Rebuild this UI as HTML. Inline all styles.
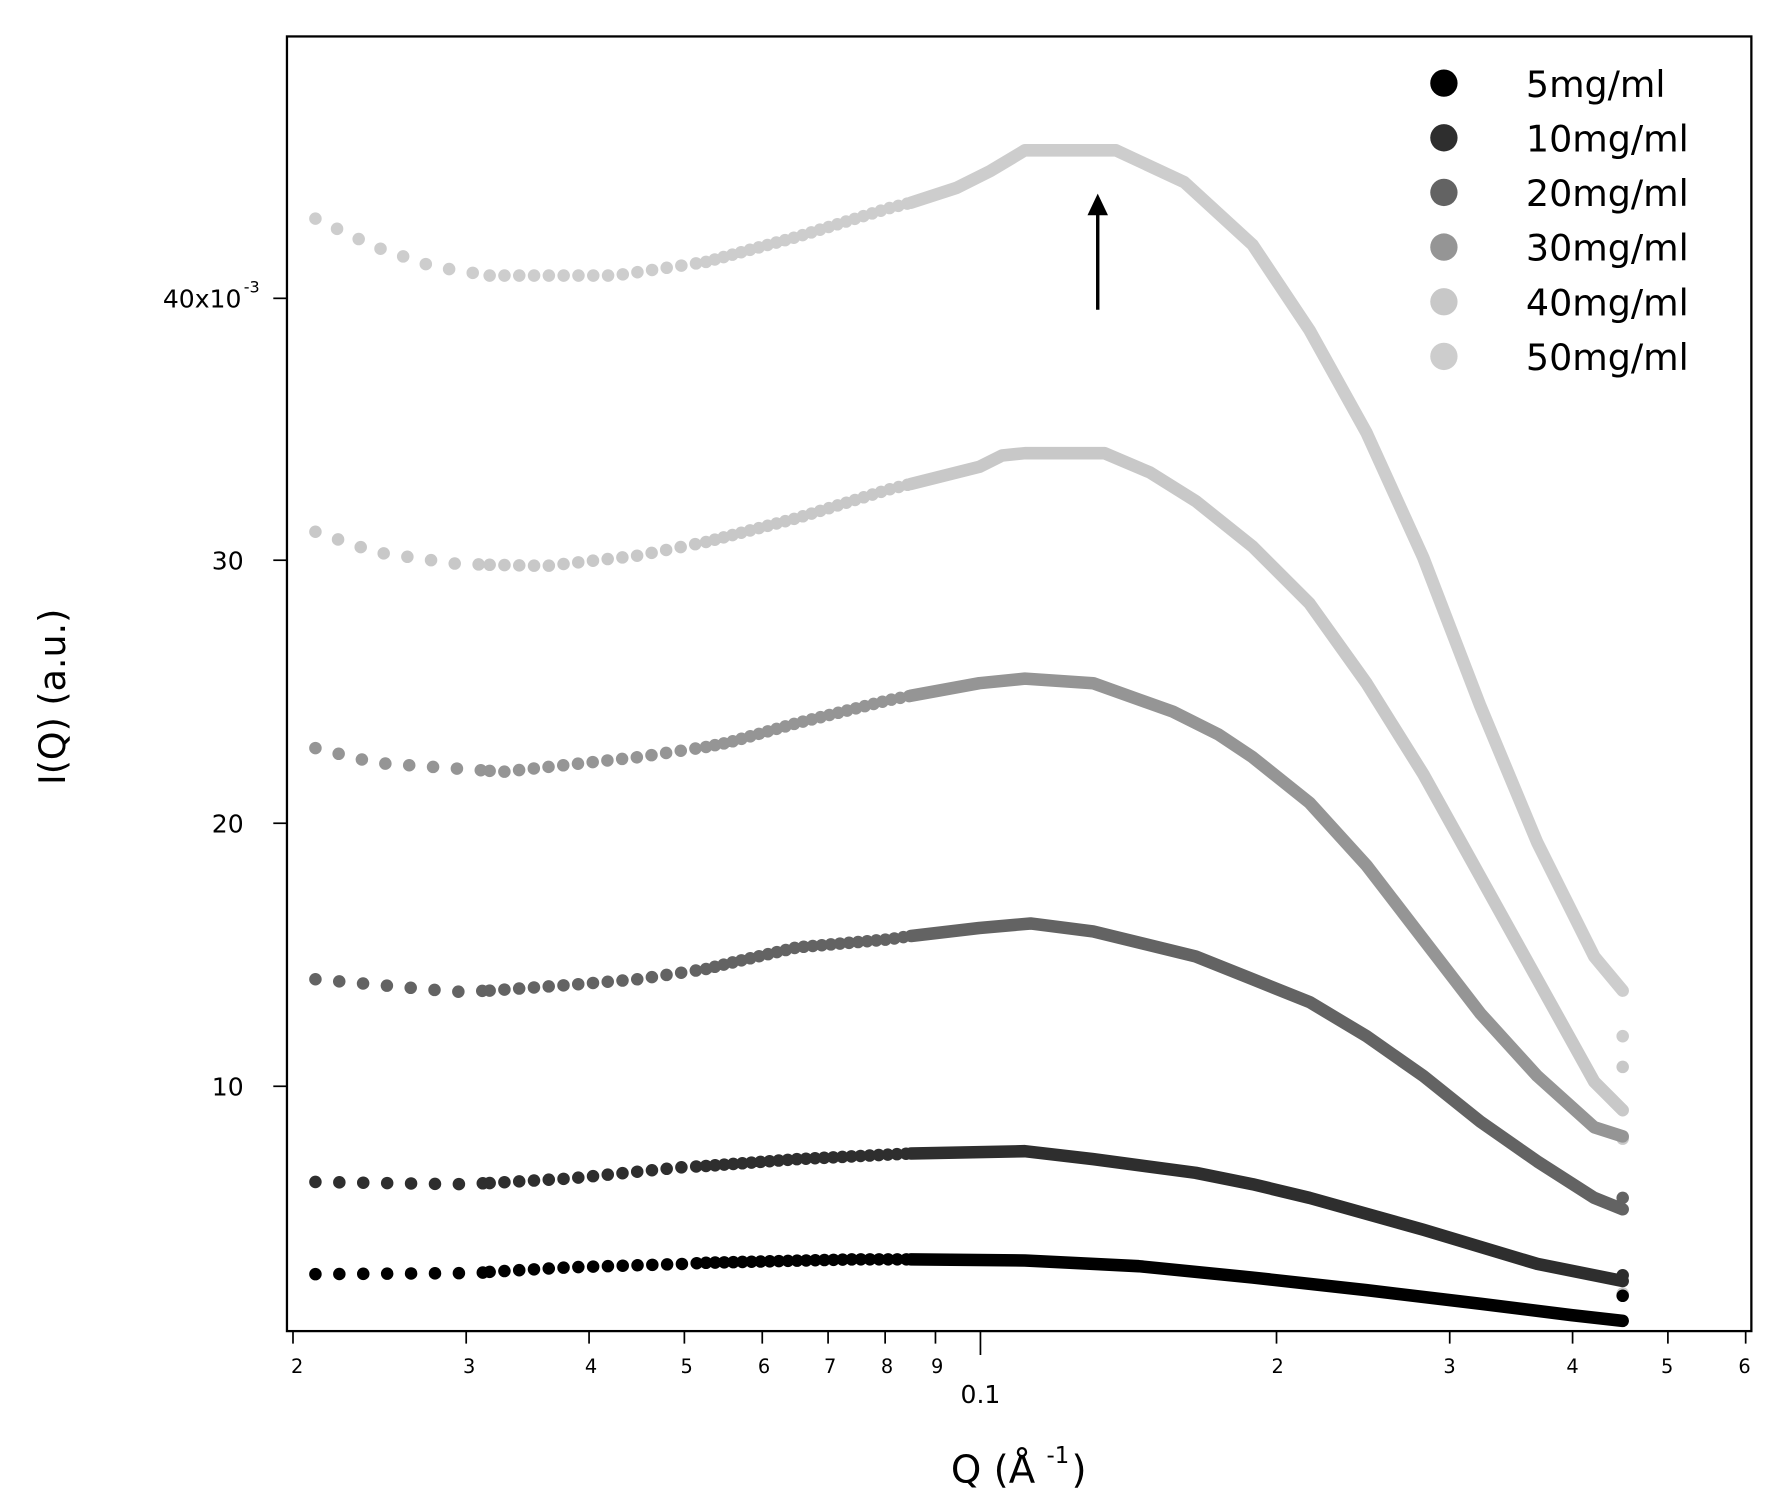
<!DOCTYPE html>
<html><head><meta charset="utf-8"><style>html,body{margin:0;padding:0;background:#fff}svg{display:block}
.a,.b,.c,.d{fill:none;stroke-width:11;stroke-linecap:round;stroke-linejoin:round}
.a{stroke-dasharray:0 21}.b{stroke-dasharray:0 13}.c{stroke-dasharray:0 8}
</style></head>
<body>
<svg width="1773" height="1511" viewBox="0 0 1557 1327" preserveAspectRatio="none" xmlns="http://www.w3.org/2000/svg" font-family="'DejaVu Sans','Liberation Sans',sans-serif">
<rect x="0" y="0" width="1557" height="1327" fill="#fff"/>
<g stroke="#cdcdcd">
<polyline class="a" points="277,192 330,217 380,234 430,242"/>
<polyline class="b" points="430,242 540,242 620,230"/>
<polyline class="c" points="620,230 700,208 780,183 800,178"/>
<polyline class="d" points="800,178 840,165 870,150 900,132 980,132 1040,160 1100,215 1150,290 1200,380 1250,490 1300,620 1350,740 1400,840 1425,870"/>
</g>
<g fill="#cdcdcd"><circle cx="1425" cy="1136" r="5.5"/><circle cx="1425" cy="910" r="5.5"/></g>
<g stroke="#c8c8c8">
<polyline class="a" points="277,467 330,485 400,495 430,496"/>
<polyline class="b" points="430,496 480,497 560,488 620,476"/>
<polyline class="c" points="620,476 700,455 780,430 800,425"/>
<polyline class="d" points="800,425 860,410 880,400 900,398 970,398 1010,415 1050,440 1100,480 1150,530 1200,600 1250,680 1300,770 1350,860 1400,950 1425,975"/>
</g>
<g fill="#c8c8c8"><circle cx="1425" cy="937" r="5.5"/><circle cx="1425" cy="1000" r="5.5"/></g>
<g stroke="#959595">
<polyline class="a" points="277,657 330,670 430,677"/>
<polyline class="b" points="430,677 440,678 560,665 620,656"/>
<polyline class="c" points="620,656 640,652 700,635 780,615 800,611"/>
<polyline class="d" points="800,611 860,600 900,596 960,600 1030,625 1070,645 1100,665 1150,705 1200,760 1250,825 1300,890 1350,945 1400,990 1425,998"/>
</g>
<g stroke="#636363">
<polyline class="a" points="277,860 400,871 430,870"/>
<polyline class="b" points="430,870 500,865 560,860 620,851"/>
<polyline class="c" points="620,851 640,846 700,832 780,825 800,822"/>
<polyline class="d" points="800,822 860,815 905,811 960,818 1050,840 1100,860 1150,880 1200,910 1250,945 1300,985 1350,1020 1400,1052 1425,1062"/>
</g>
<circle cx="1425" cy="1052" r="5.5" fill="#636363"/>
<g stroke="#2e2e2e">
<polyline class="a" points="277,1038 400,1040 430,1039"/>
<polyline class="b" points="430,1039 500,1035 600,1025 620,1024"/>
<polyline class="c" points="620,1024 700,1018 800,1013"/>
<polyline class="d" points="800,1013 900,1011 960,1018 1050,1030 1100,1040 1150,1052 1250,1080 1350,1110 1425,1125"/>
</g>
<circle cx="1425" cy="1120" r="5.5" fill="#2e2e2e"/>
<g stroke="#000">
<polyline class="a" points="277,1119 420,1118 430,1117"/>
<polyline class="b" points="430,1117 500,1113 600,1110 620,1109"/>
<polyline class="c" points="620,1109 750,1106 800,1106"/>
<polyline class="d" points="800,1106 900,1107 1000,1112 1100,1122 1200,1133 1300,1145 1380,1155 1425,1160"/>
</g>
<circle cx="1425" cy="1138" r="5.5" fill="#000"/>
<rect x="252" y="32" width="1286" height="1137" fill="none" stroke="#000" stroke-width="2"/>
<g stroke="#000" stroke-width="1.5">
<line x1="240" y1="262" x2="252" y2="262"/><line x1="240" y1="492" x2="252" y2="492"/><line x1="240" y1="723" x2="252" y2="723"/><line x1="240" y1="954" x2="252" y2="954"/>
<line x1="257.3" y1="1169" x2="257.3" y2="1180"/><line x1="409.4" y1="1169" x2="409.4" y2="1180"/><line x1="517.3" y1="1169" x2="517.3" y2="1180"/><line x1="601" y1="1169" x2="601" y2="1180"/><line x1="669.4" y1="1169" x2="669.4" y2="1180"/><line x1="727.2" y1="1169" x2="727.2" y2="1180"/><line x1="777.3" y1="1169" x2="777.3" y2="1180"/><line x1="821.5" y1="1169" x2="821.5" y2="1180"/><line x1="861" y1="1169" x2="861" y2="1190"/><line x1="1121" y1="1169" x2="1121" y2="1180"/><line x1="1273.1" y1="1169" x2="1273.1" y2="1180"/><line x1="1381" y1="1169" x2="1381" y2="1180"/><line x1="1464.7" y1="1169" x2="1464.7" y2="1180"/><line x1="1533" y1="1169" x2="1533" y2="1180"/>
</g>
<g font-size="22" text-anchor="end" fill="#000">
<text x="212" y="270">40x10</text><text x="228" y="257" font-size="14">-3</text>
<text x="214" y="500">30</text><text x="214" y="731">20</text><text x="214" y="962">10</text>
</g>
<g font-size="17" text-anchor="middle" fill="#000">
<text x="261" y="1206">2</text><text x="412" y="1206">3</text><text x="519" y="1206">4</text><text x="603" y="1206">5</text><text x="671" y="1206">6</text><text x="729" y="1206">7</text><text x="779" y="1206">8</text><text x="823" y="1206">9</text><text x="1122" y="1206">2</text><text x="1273" y="1206">3</text><text x="1381" y="1206">4</text><text x="1464" y="1206">5</text><text x="1532" y="1206">6</text>
</g>
<text x="861" y="1232" font-size="22" text-anchor="middle">0.1</text>
<text x="835" y="1302" font-size="34">Q (Å</text>
<text x="919" y="1285" font-size="20">-1</text>
<text x="941" y="1302" font-size="34">)</text>
<text transform="translate(57,612) rotate(-90)" font-size="32" text-anchor="middle">I(Q) (a.u.)</text>
<line x1="964" y1="272" x2="964" y2="185" stroke="#000" stroke-width="3"/>
<polygon points="964,170 955,189 973,189" fill="#000"/>
<g fill="#000"><circle cx="1268" cy="73" r="12"/></g>
<circle cx="1268" cy="121" r="12" fill="#2e2e2e"/>
<circle cx="1268" cy="169" r="12" fill="#636363"/>
<circle cx="1268" cy="217" r="12" fill="#959595"/>
<circle cx="1268" cy="265" r="12" fill="#c8c8c8"/>
<circle cx="1268" cy="313" r="12" fill="#cdcdcd"/>
<g font-size="32" fill="#000">
<text x="1340" y="85">5mg/ml</text><text x="1340" y="133">10mg/ml</text><text x="1340" y="181">20mg/ml</text><text x="1340" y="229">30mg/ml</text><text x="1340" y="277">40mg/ml</text><text x="1340" y="325">50mg/ml</text>
</g>
</svg>
</body></html>
